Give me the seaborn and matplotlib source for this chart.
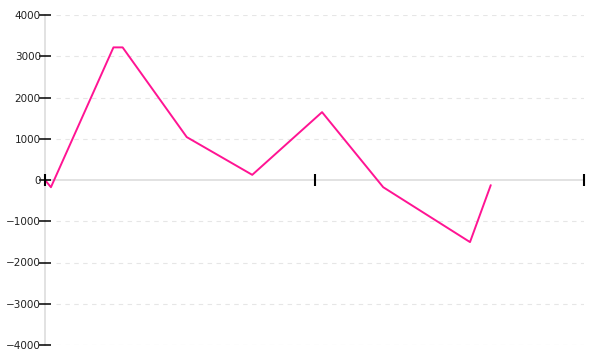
import matplotlib
matplotlib.use("Agg")
import matplotlib.pyplot as plt
import seaborn as sns
import pandas as pd

# Data
x_values = [0, 2.2, 25.4, 28.8, 52.6, 76.9, 102.8, 125.5, 157.7, 165.4]
y_values = [0, -175, 3215, 3215, 1040, 125, 1645, -175, -1505, -125]
y_ticks = [-4000, -3000, -2000, -1000, 0, 1000, 2000, 3000, 4000]
x_ticks = [0, 100, 200]

df = pd.DataFrame({"x": x_values, "y": y_values})

sns.set_style("white")
plt.rcParams["font.family"] = ["DejaVu Sans"]

fig = plt.figure(figsize=(6, 3.6), dpi=100)
ax = fig.add_axes([0.075, 1 - 345 / 360, (584 - 45) / 600, 330 / 360])

sns.lineplot(data=df, x="x", y="y", ax=ax, color="#ff1493", linewidth=1.4,
             sort=False, estimator=None, zorder=5)

ax.set_xlim(0, 200)
ax.set_ylim(-4000, 4000)
ax.set_yticks(y_ticks)
ax.set_yticklabels([f"{v:d}".replace("-", "\u2212") for v in y_ticks])
ax.set_xticks(x_ticks)
ax.set_xticklabels([])
ax.set_xlabel("")
ax.set_ylabel("")

# gridlines
for v in y_ticks:
    if v != 0:
        ax.axhline(v, xmin=0.02, color="#e6e6e6", linewidth=0.8,
                   linestyle=(0, (4, 4)), zorder=0)

for s in ["top", "right"]:
    ax.spines[s].set_visible(False)
ax.spines["left"].set_color("#dddddd")
ax.spines["left"].set_linewidth(1.2)
ax.spines["left"].set_zorder(1)

# zero axis line with x ticks
ax.spines["bottom"].set_position(("data", 0))
ax.spines["bottom"].set_color("#dddddd")
ax.spines["bottom"].set_linewidth(1.2)
ax.spines["bottom"].set_zorder(1)

ax.xaxis.set_zorder(6)
ax.yaxis.set_zorder(6)

ax.tick_params(axis="y", direction="inout", length=9, width=1.1, color="black",
               labelsize=7.5, labelcolor="#222222", pad=-1.5, left=True)
ax.tick_params(axis="x", direction="inout", length=9, width=1.5, color="black",
               bottom=True)

fig.savefig("out.png", dpi=100)
